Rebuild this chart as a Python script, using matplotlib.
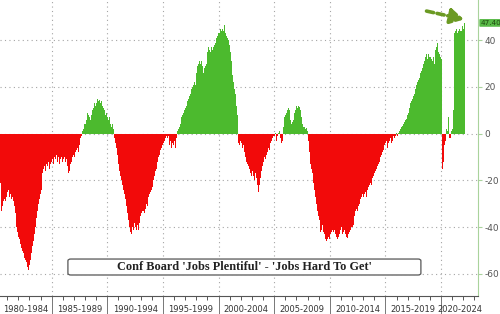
import matplotlib
matplotlib.use("Agg")
import matplotlib.pyplot as plt
import matplotlib.transforms as mtransforms
from matplotlib.patches import FancyBboxPatch
import numpy as np
import pandas as pd

# Conference Board labor differential, monthly, starting May 1980
start_month = "1980-05"
ld_1980s = [
    -21, -33, -31, -29, -30, -28, -29, -27,
    -25, -24, -27, -26, -28, -27, -29, -31, -34, -37, -40, -42,
    -44, -45, -47, -49, -50, -51, -53, -54, -55, -57, -58.5, -57,
    -56, -54, -51, -48, -46, -43, -40, -36, -33, -30, -28, -26,
    -24, -20, -17, -15, -14, -16, -13, -14, -12, -15, -13, -12,
    -11, -13, -10, -12, -11, -9, -12, -10, -13, -11, -10, -12,
    -11, -10, -12, -11, -13, -14, -17, -16, -13, -12, -10, -9,
    -10, -8, -7, -6, -8, -5, -3, -2, -1, 1, 2, 4,
    4, 6, 9, 8, 7, 6, 8, 10, 12, 11, 13, 12,
    13, 15, 14, 14.5, 13, 14, 12, 11, 10, 9, 8, 9,
]
ld_1990s = [
    7, 6, 7, 4, 3, 4, 2, -2, -4, -6, -9, -12,
    -13, -16, -18, -20, -22, -24, -26, -28, -31, -34, -37, -40,
    -42, -44, -43, -40, -41, -38, -40, -41, -39, -41, -38, -35,
    -34, -33, -34, -33, -34, -32, -30, -31, -27, -26, -25, -24,
    -23, -20, -18, -16, -14, -15, -12, -10, -9, -7, -6, -5,
    -4, -3, -2, -1, -2, -1, -3, -5, -3, -6, -4, -5,
    -3, -6, -2, 1, 2, 3, 4, 5, 7, 8, 9, 10,
    11, 12, 14, 15, 16, 17, 19, 20, 21, 20, 22, 21,
    26, 29, 30, 31, 30, 31, 29, 26, 28, 29, 30, 33,
    35, 37, 36, 35, 37, 36, 37, 38, 39, 41, 42, 43,
]
ld_2000s = [
    44, 43, 45, 44, 45, 44, 46.5, 43, 42, 41, 40, 38,
    35, 31, 28, 25, 22, 19, 17, 12, 8, -4, -5, -3,
    -4, -6, -5, -8, -7, -10, -12, -13, -14, -15, -17, -18,
    -16, -18, -20, -17, -19, -22, -24, -25, -22, -19, -16, -14,
    -12, -10, -11, -9, -8, -6, -7, -5, -4, -3, -2, -1,
    -1, 0.5, -3, -1, 0.5, 1, -2, -4, -3, 1, 3, 7,
    8, 9, 10, 11, 10, 6, 4, 5, 6, 9, 10, 11,
    12, 11, 12, 11.5, 10, 7, 4, 3, 3, 2, 2.5, 1,
    1, -3, -8, -13, -15, -17, -21, -24, -27, -30, -33, -35,
    -37, -42, -40, -41, -39, -42, -43, -45, -46, -45, -44, -45,
]
ld_2010s = [
    -43, -42, -41, -42, -40, -41, -43, -44, -45, -44, -43, -41,
    -40, -43, -42, -41, -43, -42, -44, -44.5, -43, -42, -41, -40,
    -40, -39, -35, -33, -32, -33, -31, -32, -30, -28, -27, -26,
    -27, -26, -25, -27, -24, -23, -22, -21, -22, -20, -19, -18,
    -17, -16, -15, -14, -13, -12, -10, -9, -8, -7, -6, -5,
    -4, -3, -6, -4, -3, -2, -4, -3, -1, -2, -1, 0.5,
    1, -1, 0.5, 1, 2, 3, 3.5, 4, 5, 6, 6.5, 8,
    9, 11, 12, 13, 14, 15, 16, 17, 19, 21, 22, 23,
    24, 26, 27, 29, 28, 30, 31, 33, 34, 32, 34, 33,
    33, 32, 31, 33, 30, 32, 36, 37, 38.6, 35, 34, 33,
]
ld_2020s = [
    32, -15, -12, -5, -3, 2, 1, -2, 7, -2, -2, 1,
    2, 10, 43, 44, 45, 43, 44, 45, 44, 45, 44, 46,
    45, 47.4,
]
period_labels = ["1980-1984", "1985-1989", "1990-1994", "1995-1999", "2000-2004",
                 "2005-2009", "2010-2014", "2015-2019", "2020-2024"]
y_ticks = [-60, -40, -20, 0, 20, 40]

values = np.array(ld_1980s + ld_1990s + ld_2000s + ld_2010s + ld_2020s, dtype=float)
months = pd.date_range(start_month, periods=len(values), freq="MS")
xs = months.year + (months.month - 1) / 12
edges = np.append(xs, xs[-1] + 1 / 12)

RED = "#f20a0a"
GREEN = "#4cba2e"

fig = plt.figure(figsize=(5, 3.14), dpi=100)
ax = fig.add_axes([0, 0.0583, 0.9566, 0.9417])

ax.stairs(np.clip(values, 0, None), edges, baseline=0, fill=True, color=GREEN, lw=0)
ax.stairs(np.clip(values, None, 0), edges, baseline=0, fill=True, color=RED, lw=0)

x0, x1 = 1980.35, 2023.35
ax.set_xlim(x0, x1)
ax.set_ylim(-69.3, 57.2)

# grid
for v in y_ticks:
    ax.axhline(v, color="#a5a5a5", lw=0.8, ls=(0, (1, 3)), zorder=0)
bounds = list(range(1985, 2025, 5))
for b in bounds:
    ax.axvline(b, color="#a5a5a5", lw=0.8, ls=(0, (1, 3)), zorder=0)

# spines
for s in ["left", "top"]:
    ax.spines[s].set_visible(False)
ax.spines["right"].set_color("#a9d39c")
ax.spines["bottom"].set_color("#555555")

# y axis on right
ax.yaxis.tick_right()
ax.set_yticks(y_ticks)
ax.set_yticklabels([str(v) for v in y_ticks])
ax.tick_params(axis="y", length=3, width=0.8, color="#a9d39c", labelsize=6.5,
               labelcolor="#555555", pad=1.5)

# x axis: yearly ticks, 5-year separators, period labels
ax.set_xticks(np.arange(1981, 2024))
ax.set_xticklabels([])
ax.tick_params(axis="x", length=3, width=0.7, color="#555555")
trans = mtransforms.blended_transform_factory(ax.transData, ax.transAxes)
for b in bounds:
    ax.plot([b, b], [0, -0.07], transform=trans, color="#777777", lw=0.7, clip_on=False)
starts = [x0] + bounds
ends = bounds + [x1]
for lab, a, b in zip(period_labels, starts, ends):
    ax.text((a + b) / 2, -0.045, lab, transform=trans, ha="center", va="center",
            fontsize=6, color="#333333")

# title box
box = FancyBboxPatch((0.142, 0.070), 0.738, 0.054, boxstyle="round,pad=0,rounding_size=0.006",
                     transform=ax.transAxes, facecolor="white", edgecolor="#555555", lw=0.9, zorder=5)
ax.add_patch(box)
ax.text(0.511, 0.097, "Conf Board 'Jobs Plentiful' - 'Jobs Hard To Get'", transform=ax.transAxes,
        ha="center", va="center", fontsize=8.8, fontweight="bold", family="Liberation Serif",
        color="#222222", zorder=6)

# last value tag
last_x, last_v = edges[-1], values[-1]
ytrans = mtransforms.blended_transform_factory(ax.transAxes, ax.transData)
ax.text(1.004, last_v, f"{last_v:.2f}", transform=ytrans, ha="left", va="center",
        fontsize=5.2, color="#1f4a10",
        bbox=dict(boxstyle="round,pad=0.12", facecolor="#58b947", edgecolor="none"))

# dashed arrow pointing at the latest value
ax.annotate("", xy=(last_x - 0.1, last_v + 1.5), xytext=(-27, 6), textcoords="offset points",
            arrowprops=dict(arrowstyle="-|>,head_length=0.8,head_width=0.45", lw=2.6,
                            ls=(0, (2, 1)), color="#6b9a23", shrinkA=0, shrinkB=0))

fig.savefig("out.png", dpi=100)
